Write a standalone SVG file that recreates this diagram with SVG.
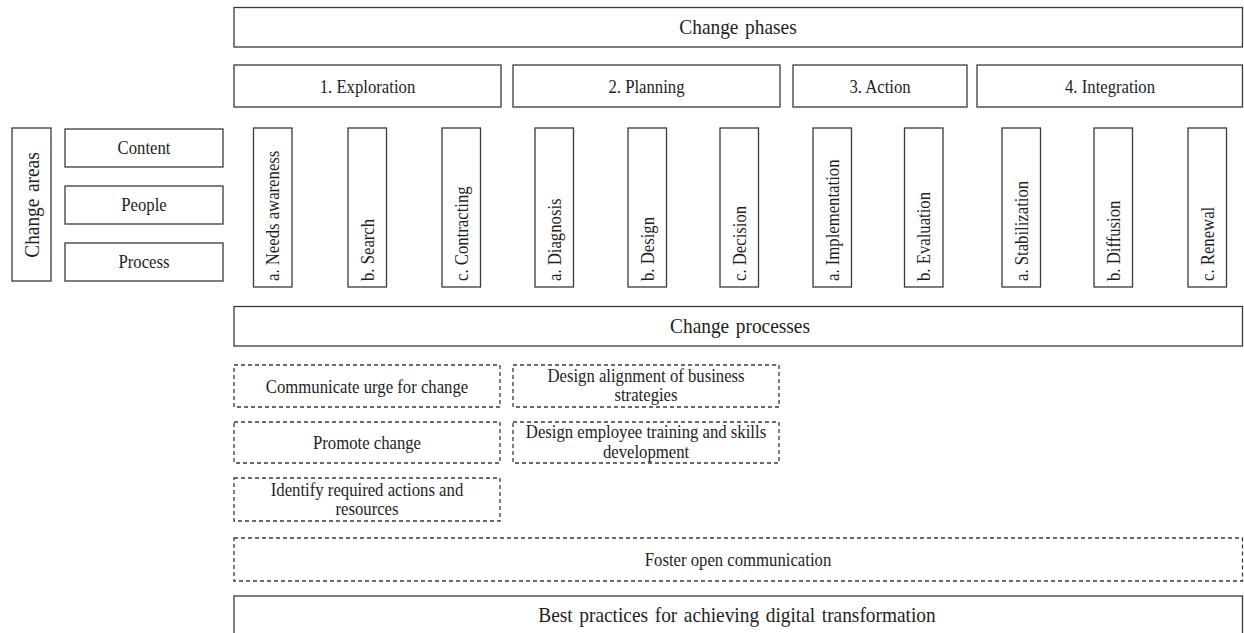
<svg xmlns="http://www.w3.org/2000/svg" width="1244" height="633" viewBox="0 0 1244 633">
  <style>
    .box { fill: #ffffff; stroke: #3a3a3a; stroke-width: 1.3; }
    .dash { fill: none; stroke: #3a3a3a; stroke-width: 1.3; stroke-dasharray: 4 3; }
    .t { font-family: "Liberation Serif", "Times New Roman", serif; font-size: 19px; fill: #1e1e1e; text-anchor: middle; }
    .h { font-size: 22px; word-spacing: 2px; }
    .v { text-anchor: start; }
  </style>
  <rect width="1244" height="633" fill="#ffffff"/>

  <!-- header band -->
  <g id="change-phases">
    <rect class="box" x="234" y="7.5" width="1008.5" height="39.5"/>
    <text class="t h" transform="translate(738 34) scale(0.88 1)">Change phases</text>
  </g>

  <!-- phases -->
  <g id="phase-exploration">
    <rect class="box" x="234" y="65" width="267" height="42"/>
    <text class="t" transform="translate(367.5 93) scale(0.88 1)">1. Exploration</text>
  </g>
  <g id="phase-planning">
    <rect class="box" x="513" y="65" width="267" height="42"/>
    <text class="t" transform="translate(646.5 93) scale(0.88 1)">2. Planning</text>
  </g>
  <g id="phase-action">
    <rect class="box" x="793" y="65" width="174" height="42"/>
    <text class="t" transform="translate(880 93) scale(0.88 1)">3. Action</text>
  </g>
  <g id="phase-integration">
    <rect class="box" x="977" y="65" width="265.5" height="42"/>
    <text class="t" transform="translate(1110 93) scale(0.88 1)">4. Integration</text>
  </g>

  <!-- change areas -->
  <g id="change-areas">
    <rect class="box" x="12" y="128" width="39" height="153"/>
    <text class="t h" transform="translate(39 205) rotate(-90) scale(0.88 1)">Change areas</text>
  </g>
  <g id="area-content">
    <rect class="box" x="65" y="129" width="158" height="38"/>
    <text class="t" transform="translate(144 154) scale(0.88 1)">Content</text>
  </g>
  <g id="area-people">
    <rect class="box" x="65" y="186" width="158" height="38"/>
    <text class="t" transform="translate(144 211) scale(0.88 1)">People</text>
  </g>
  <g id="area-process">
    <rect class="box" x="65" y="243" width="158" height="38"/>
    <text class="t" transform="translate(144 268) scale(0.88 1)">Process</text>
  </g>

  <!-- sub-phases -->
  <g id="step-needs-awareness">
    <rect class="box" x="253.5" y="128" width="38.5" height="159"/>
    <text class="t v" transform="translate(279 281) rotate(-90) scale(0.88 1)">a. Needs awareness</text>
  </g>
  <g id="step-search">
    <rect class="box" x="348" y="128" width="38.5" height="159"/>
    <text class="t v" transform="translate(373.5 281) rotate(-90) scale(0.88 1)">b. Search</text>
  </g>
  <g id="step-contracting">
    <rect class="box" x="442" y="128" width="38.5" height="159"/>
    <text class="t v" transform="translate(467.5 281) rotate(-90) scale(0.88 1)">c. Contracting</text>
  </g>
  <g id="step-diagnosis">
    <rect class="box" x="535" y="128" width="38.5" height="159"/>
    <text class="t v" transform="translate(560.5 281) rotate(-90) scale(0.88 1)">a. Diagnosis</text>
  </g>
  <g id="step-design">
    <rect class="box" x="628" y="128" width="38.5" height="159"/>
    <text class="t v" transform="translate(653.5 281) rotate(-90) scale(0.88 1)">b. Design</text>
  </g>
  <g id="step-decision">
    <rect class="box" x="720" y="128" width="38.5" height="159"/>
    <text class="t v" transform="translate(745.5 281) rotate(-90) scale(0.88 1)">c. Decision</text>
  </g>
  <g id="step-implementation">
    <rect class="box" x="813" y="128" width="38.5" height="159"/>
    <text class="t v" transform="translate(838.5 281) rotate(-90) scale(0.88 1)">a. Implementation</text>
  </g>
  <g id="step-evaluation">
    <rect class="box" x="904.5" y="128" width="38.5" height="159"/>
    <text class="t v" transform="translate(930 281) rotate(-90) scale(0.88 1)">b. Evaluation</text>
  </g>
  <g id="step-stabilization">
    <rect class="box" x="1002" y="128" width="38.5" height="159"/>
    <text class="t v" transform="translate(1027.5 281) rotate(-90) scale(0.88 1)">a. Stabilization</text>
  </g>
  <g id="step-diffusion">
    <rect class="box" x="1094" y="128" width="38.5" height="159"/>
    <text class="t v" transform="translate(1119.5 281) rotate(-90) scale(0.88 1)">b. Diffusion</text>
  </g>
  <g id="step-renewal">
    <rect class="box" x="1188" y="128" width="38.5" height="159"/>
    <text class="t v" transform="translate(1213.5 281) rotate(-90) scale(0.88 1)">c. Renewal</text>
  </g>

  <!-- process band -->
  <g id="change-processes">
    <rect class="box" x="234" y="306.5" width="1008.5" height="39.5"/>
    <text class="t h" transform="translate(740 333) scale(0.88 1)">Change processes</text>
  </g>

  <!-- practices -->
  <g id="communicate-urge">
    <rect class="dash" x="234" y="365" width="266" height="42"/>
    <text class="t" transform="translate(367 392.5) scale(0.88 1)">Communicate urge for change</text>
  </g>
  <g id="promote-change">
    <rect class="dash" x="234" y="422" width="266" height="41"/>
    <text class="t" transform="translate(367 449) scale(0.88 1)">Promote change</text>
  </g>
  <g id="identify-actions">
    <rect class="dash" x="234" y="478" width="266" height="43"/>
    <text class="t" transform="translate(367 496) scale(0.88 1)">Identify required actions and</text>
    <text class="t" transform="translate(367 515) scale(0.88 1)">resources</text>
  </g>
  <g id="design-alignment">
    <rect class="dash" x="513" y="365" width="266" height="42"/>
    <text class="t" transform="translate(646 381.5) scale(0.88 1)">Design alignment of business</text>
    <text class="t" transform="translate(646 400.5) scale(0.88 1)">strategies</text>
  </g>
  <g id="design-training">
    <rect class="dash" x="513" y="422" width="266" height="41"/>
    <text class="t" transform="translate(646 438) scale(0.88 1)">Design employee training and skills</text>
    <text class="t" transform="translate(646 457.5) scale(0.88 1)">development</text>
  </g>
  <g id="foster-communication">
    <rect class="dash" x="234" y="538" width="1008.5" height="43"/>
    <text class="t" transform="translate(738 566) scale(0.88 1)">Foster open communication</text>
  </g>

  <!-- footer band, continues past the bottom edge -->
  <g id="best-practices">
    <rect class="box" x="234" y="596" width="1008.5" height="50"/>
    <text class="t h" transform="translate(737 622) scale(0.88 1)">Best practices for achieving digital transformation</text>
  </g>

  <!-- the layout has no connecting lines -->
  <g id="connectors"/>
</svg>
